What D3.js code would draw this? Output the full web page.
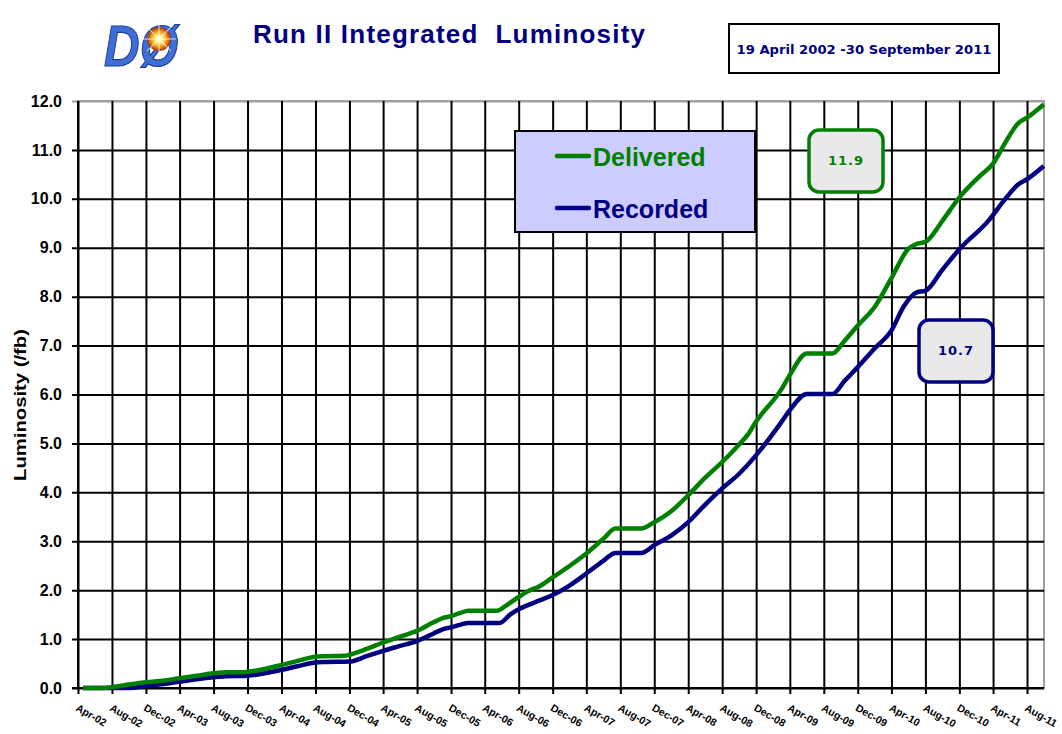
<!DOCTYPE html>
<html>
<head>
<meta charset="utf-8">
<script src="https://cdn.jsdelivr.net/npm/d3@7"></script>
<style>
  body { margin: 0; background: #fff; }
  svg { display: block; }
</style>
</head>
<body>
<script>
// Data
var xTickLabels = ["Apr-02", "Aug-02", "Dec-02", "Apr-03", "Aug-03", "Dec-03", "Apr-04", "Aug-04",
  "Dec-04", "Apr-05", "Aug-05", "Dec-05", "Apr-06", "Aug-06", "Dec-06", "Apr-07", "Aug-07", "Dec-07",
  "Apr-08", "Aug-08", "Dec-08", "Apr-09", "Aug-09", "Dec-09", "Apr-10", "Aug-10", "Dec-10", "Apr-11", "Aug-11"];
var yTicks = [0, 1, 2, 3, 4, 5, 6, 7, 8, 9, 10, 11, 12];

var deliveredDates = ["2002-04-19", "2002-07-01", "2002-08-01", "2002-10-01", "2002-12-01", "2003-02-01",
  "2003-04-01", "2003-06-01", "2003-08-01", "2003-09-15", "2003-11-15", "2003-12-01", "2004-02-01",
  "2004-04-01", "2004-06-01", "2004-08-01", "2004-09-01", "2004-11-15", "2004-12-01", "2005-02-01",
  "2005-04-01", "2005-06-01", "2005-08-01", "2005-10-01", "2005-11-01", "2005-12-01", "2006-01-01",
  "2006-02-01", "2006-05-15", "2006-06-15", "2006-08-01", "2006-09-01", "2006-10-15", "2006-12-01",
  "2007-02-01", "2007-04-01", "2007-06-01", "2007-07-15", "2007-10-15", "2007-12-01", "2008-02-01",
  "2008-04-01", "2008-06-01", "2008-08-01", "2008-10-01", "2008-11-01", "2008-12-01", "2009-03-01",
  "2009-04-01", "2009-06-01", "2009-09-01", "2009-10-15", "2009-12-01", "2010-02-01", "2010-04-01",
  "2010-06-01", "2010-07-01", "2010-08-01", "2010-10-01", "2010-12-01", "2011-02-15", "2011-04-01",
  "2011-05-15", "2011-07-01", "2011-08-01", "2011-09-30"];
var deliveredValues = [0, 0.0, 0.02, 0.07, 0.12, 0.15,
  0.20, 0.25, 0.30, 0.32, 0.32, 0.33, 0.39,
  0.47, 0.56, 0.64, 0.65, 0.66, 0.68, 0.80,
  0.93, 1.05, 1.17, 1.35, 1.43, 1.47, 1.53,
  1.58, 1.58, 1.68, 1.86, 1.97, 2.08, 2.26,
  2.50, 2.75, 3.05, 3.26, 3.26, 3.39, 3.62,
  3.94, 4.30, 4.62, 4.98, 5.18, 5.45, 6.10,
  6.40, 6.84, 6.84, 7.10, 7.41, 7.80, 8.38,
  8.98, 9.08, 9.12, 9.55, 10.03, 10.48, 10.72,
  11.15, 11.55, 11.66, 11.93];

var recordedDates = ["2002-04-19", "2002-10-01", "2002-12-01", "2003-02-01", "2003-04-01", "2003-06-01",
  "2003-08-01", "2003-09-15", "2003-12-01", "2004-02-01", "2004-04-01", "2004-06-01", "2004-08-01",
  "2004-09-01", "2004-12-01", "2005-02-01", "2005-04-01", "2005-06-01", "2005-08-01", "2005-10-01",
  "2005-11-01", "2005-12-01", "2006-01-01", "2006-02-01", "2006-05-25", "2006-07-01", "2006-08-01",
  "2006-09-01", "2006-10-15", "2006-12-01", "2007-02-01", "2007-04-01", "2007-06-01", "2007-07-15",
  "2007-10-15", "2007-12-01", "2008-02-01", "2008-04-01", "2008-06-01", "2008-08-01", "2008-10-01",
  "2008-12-01", "2009-03-01", "2009-04-01", "2009-06-01", "2009-09-01", "2009-10-15", "2009-12-01",
  "2010-02-01", "2010-04-01", "2010-05-15", "2010-07-01", "2010-08-01", "2010-10-01", "2010-12-01",
  "2011-03-15", "2011-05-15", "2011-07-01", "2011-08-01", "2011-09-30"];
var recordedValues = [0, 0.0, 0.04, 0.08, 0.13, 0.18,
  0.22, 0.24, 0.25, 0.30, 0.37, 0.45, 0.52,
  0.53, 0.54, 0.65, 0.76, 0.86, 0.96, 1.12,
  1.20, 1.24, 1.29, 1.33, 1.33, 1.50, 1.61,
  1.69, 1.79, 1.90, 2.10, 2.34, 2.60, 2.76,
  2.76, 2.92, 3.12, 3.39, 3.75, 4.08, 4.38,
  4.76, 5.43, 5.68, 6.01, 6.01, 6.28, 6.56,
  6.95, 7.31, 7.80, 8.09, 8.12, 8.55, 8.97,
  9.55, 10.00, 10.30, 10.40, 10.67];

var deliveredTotal = "11.9";
var recordedTotal = "10.7";

var green = "#008000";
var navy = "#000080";

var svgWidth = 1062;
var svgHeight = 734;

var margin = {
  top: 101,
  right: 18,
  bottom: 46,
  left: 78
};

var width = svgWidth - margin.left - margin.right;
var height = svgHeight - margin.top - margin.bottom;

var parseDay = d3.timeParse("%Y-%m-%d");
var parseTick = d3.timeParse("%b-%y");

var delivered = deliveredDates.map(function(d, i) {
  return { date: parseDay(d), value: deliveredValues[i] };
});
var recorded = recordedDates.map(function(d, i) {
  return { date: parseDay(d), value: recordedValues[i] };
});

var svg = d3.select("body")
  .append("svg")
  .attr("width", svgWidth)
  .attr("height", svgHeight);

var chartGroup = svg.append("g")
  .attr("transform", `translate(${margin.left}, ${margin.top})`);

// scales
var xTimeScale = d3.scaleTime()
  .domain([new Date(2002, 3, 1), new Date(2011, 9, 1)])
  .range([0, width]);

var yLinearScale = d3.scaleLinear()
  .domain([0, 12])
  .range([height, 0]);

// plot border (grey top and right)
chartGroup.append("rect")
  .attr("width", width)
  .attr("height", height)
  .attr("fill", "#fff")
  .attr("stroke", "#a0a0a0")
  .attr("stroke-width", 2);

// horizontal grid + y tick marks
var leftAxis = d3.axisLeft(yLinearScale)
  .tickValues(yTicks)
  .tickSize(-(width + 6))
  .tickPadding(10)
  .tickFormat(d3.format(".1f"));

var yAxisGroup = chartGroup.append("g")
  .attr("transform", "translate(-6, 0)")
  .call(leftAxis);
yAxisGroup.select(".domain").remove();
yAxisGroup.selectAll(".tick line")
  .attr("stroke", function(d) { return d === 12 ? "#a0a0a0" : "#000"; })
  .attr("stroke-width", 2);
yAxisGroup.selectAll(".tick text")
  .attr("fill", "#000")
  .style("font-family", "'Liberation Sans', Arial, sans-serif")
  .style("font-weight", "bold")
  .style("font-size", "16px");

// vertical grid + x tick marks
var xTickDates = xTickLabels.map(parseTick);
var bottomAxis = d3.axisBottom(xTimeScale)
  .tickValues(xTickDates)
  .tickSize(-(height + 6))
  .tickFormat("");

var xAxisGroup = chartGroup.append("g")
  .attr("transform", `translate(0, ${height + 6})`)
  .call(bottomAxis);
xAxisGroup.select(".domain").remove();
xAxisGroup.selectAll(".tick line")
  .attr("stroke", "#000")
  .attr("stroke-width", 2);

// axis lines
chartGroup.append("line")
  .attr("x1", 0).attr("x2", 0)
  .attr("y1", 0).attr("y2", height)
  .attr("stroke", "#000").attr("stroke-width", 2);
chartGroup.append("line")
  .attr("x1", -6).attr("x2", width)
  .attr("y1", height).attr("y2", height)
  .attr("stroke", "#000").attr("stroke-width", 2);

// rotated month labels
chartGroup.selectAll(".xlabel")
  .data(xTickLabels)
  .enter()
  .append("text")
  .attr("class", "xlabel")
  .attr("transform", function(d) {
    return `translate(${xTimeScale(parseTick(d)) - 3}, ${height + 22}) rotate(30)`;
  })
  .style("font-family", "'Liberation Sans', Arial, sans-serif")
  .style("font-weight", "bold")
  .style("font-size", "10.5px")
  .attr("fill", "#000")
  .text(function(d) { return d; });

// curves
var lineGen = d3.line()
  .x(d => xTimeScale(d.date))
  .y(d => yLinearScale(d.value))
  .curve(d3.curveMonotoneX);

chartGroup.append("path")
  .datum(recorded)
  .attr("fill", "none")
  .attr("stroke", navy)
  .attr("stroke-width", 4.5)
  .attr("stroke-linejoin", "round")
  .attr("d", lineGen);

chartGroup.append("path")
  .datum(delivered)
  .attr("fill", "none")
  .attr("stroke", green)
  .attr("stroke-width", 4.5)
  .attr("stroke-linejoin", "round")
  .attr("d", lineGen);

// y axis label
svg.append("text")
  .attr("transform", "translate(26, 405) rotate(-90)")
  .attr("text-anchor", "middle")
  .style("font-family", "'Liberation Sans', Arial, sans-serif")
  .style("font-weight", "bold")
  .style("font-size", "17px")
  .attr("textLength", 152)
  .attr("lengthAdjust", "spacingAndGlyphs")
  .text("Luminosity (/fb)");

// legend
var legend = svg.append("g");
legend.append("rect")
  .attr("x", 515).attr("y", 131)
  .attr("width", 240).attr("height", 101)
  .attr("fill", "#ccccff")
  .attr("stroke", "#000")
  .attr("stroke-width", 2);

var legendItems = [
  { name: "Delivered", color: green, y: 156 },
  { name: "Recorded", color: navy, y: 208 }
];
legend.selectAll(".lg-line")
  .data(legendItems)
  .enter()
  .append("line")
  .attr("x1", 557).attr("x2", 589)
  .attr("y1", d => d.y).attr("y2", d => d.y)
  .attr("stroke", d => d.color)
  .attr("stroke-width", 4.5)
  .attr("stroke-linecap", "round");
legend.selectAll(".lg-text")
  .data(legendItems)
  .enter()
  .append("text")
  .attr("x", 593)
  .attr("y", d => d.y + 10)
  .attr("fill", d => d.color)
  .style("font-family", "'Liberation Sans', Arial, sans-serif")
  .style("font-weight", "bold")
  .style("font-size", "25px")
  .text(d => d.name);

// total value boxes
var totals = [
  { label: deliveredTotal, color: green, x: 809, y: 130 },
  { label: recordedTotal, color: navy, x: 919, y: 320 }
];
svg.selectAll(".total-box")
  .data(totals)
  .enter()
  .append("rect")
  .attr("x", d => d.x).attr("y", d => d.y)
  .attr("width", 74).attr("height", 62)
  .attr("rx", 10).attr("ry", 10)
  .attr("fill", "#e9e9e9")
  .attr("stroke", d => d.color)
  .attr("stroke-width", 3.5);
svg.selectAll(".total-text")
  .data(totals)
  .enter()
  .append("text")
  .attr("x", d => d.x + 37)
  .attr("y", d => d.y + 35)
  .attr("text-anchor", "middle")
  .attr("fill", d => d.color)
  .style("font-family", "'DejaVu Sans', Verdana, sans-serif")
  .style("font-weight", "bold")
  .style("font-size", "13px")
  .style("letter-spacing", "1px")
  .text(d => d.label);

// title
svg.append("text")
  .attr("x", 253)
  .attr("y", 43)
  .attr("fill", navy)
  .style("font-family", "'Liberation Sans', Arial, sans-serif")
  .style("font-weight", "bold")
  .style("font-size", "26px")
  .attr("textLength", 392)
  .attr("lengthAdjust", "spacing")
  .text("Run II Integrated  Luminosity")
  .attr("xml:space", "preserve");

// date range box
svg.append("rect")
  .attr("x", 729).attr("y", 24)
  .attr("width", 270).attr("height", 49)
  .attr("fill", "#fff")
  .attr("stroke", "#000")
  .attr("stroke-width", 2);
svg.append("text")
  .attr("x", 864)
  .attr("y", 54)
  .attr("text-anchor", "middle")
  .attr("fill", navy)
  .style("font-family", "'DejaVu Sans', Verdana, sans-serif")
  .style("font-weight", "bold")
  .style("font-size", "13px")
  .attr("textLength", 255)
  .attr("lengthAdjust", "spacingAndGlyphs")
  .text("19 April 2002 -30 September 2011");

// DØ logo
var defs = svg.append("defs");
var burst = defs.append("radialGradient").attr("id", "burst");
burst.append("stop").attr("offset", "0%").attr("stop-color", "#ffffff");
burst.append("stop").attr("offset", "30%").attr("stop-color", "#fff27a");
burst.append("stop").attr("offset", "65%").attr("stop-color", "#f0a020");
burst.append("stop").attr("offset", "100%").attr("stop-color", "#a03010");

var logo = svg.append("g").attr("transform", "translate(104, 10)");
logo.append("text")
  .attr("x", 0)
  .attr("y", 50)
  .attr("fill", "#3e6fd6")
  .attr("stroke", "#1d3d94")
  .attr("stroke-width", 1)
  .attr("transform", "scale(0.95, 1.12)")
  .style("font-family", "'Liberation Sans', Arial, sans-serif")
  .style("font-weight", "bold")
  .style("font-style", "italic")
  .style("font-size", "52px")
  .text("DØ");
logo.append("circle")
  .attr("cx", 55).attr("cy", 29)
  .attr("r", 12)
  .attr("fill", "url(#burst)");
var rays = [0, 45, 90, 135];
logo.selectAll(".ray")
  .data(rays)
  .enter()
  .append("line")
  .attr("x1", -17).attr("x2", 17)
  .attr("y1", 0).attr("y2", 0)
  .attr("transform", d => `translate(55, 29) rotate(${d})`)
  .attr("stroke", "#ffffff")
  .attr("stroke-width", 1)
  .attr("opacity", 0.8);
</script>
</body>
</html>
